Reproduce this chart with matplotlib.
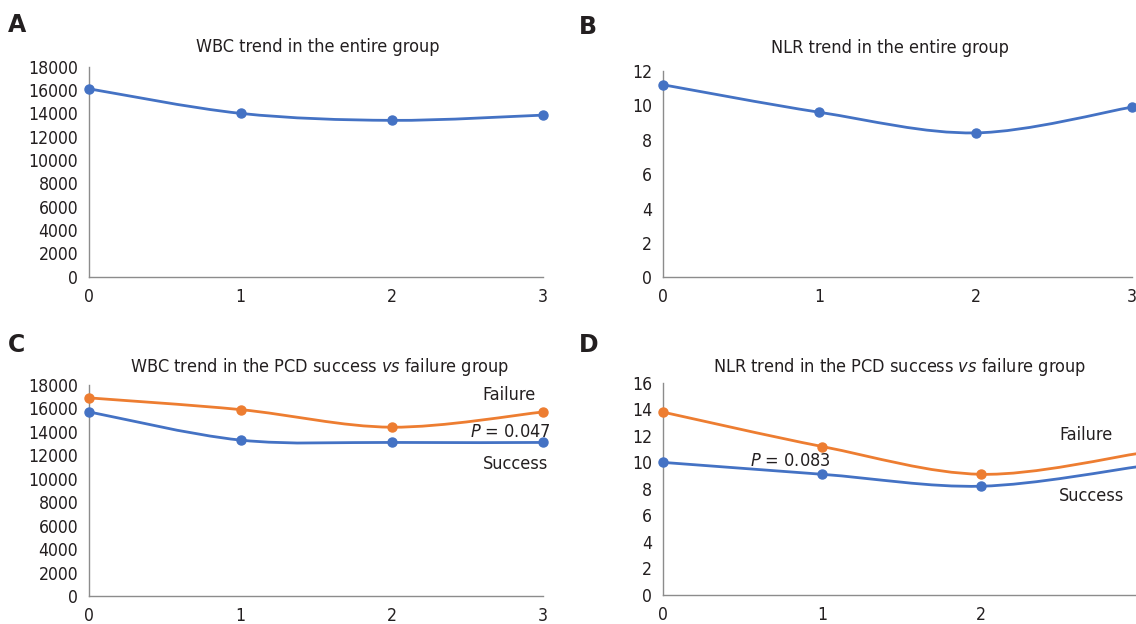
import matplotlib
matplotlib.use("Agg")
import matplotlib.pyplot as plt
from matplotlib.path import Path
from matplotlib.patches import PathPatch

# ---------------- data ----------------
timepoints = [0, 1, 2, 3]

wbc_entire = [16100, 14000, 13400, 13850]
nlr_entire = [11.2, 9.6, 8.4, 9.9]

wbc_failure = [16900, 15900, 14400, 15700]
wbc_success = [15700, 13300, 13100, 13100]

nlr_failure = [13.8, 11.2, 9.1, 10.7]
nlr_success = [10.0, 9.1, 8.2, 9.7]

wbc_ticks = [0, 2000, 4000, 6000, 8000, 10000, 12000, 14000, 16000, 18000]
nlr_ticks_b = [0, 2, 4, 6, 8, 10, 12]
nlr_ticks_d = [0, 2, 4, 6, 8, 10, 12, 14, 16]

titles = ["WBC trend in the entire group",
          "NLR trend in the entire group",
          r"WBC trend in the PCD success $\mathit{vs}$ failure group",
          r"NLR trend in the PCD success $\mathit{vs}$ failure group"]
letters = ["A", "B", "C", "D"]

BLUE = "#4472C4"
ORANGE = "#ED7D31"
TXT = "#231F20"
AXC = "#8C8C8C"

plt.rcParams["font.family"] = "DejaVu Sans"
plt.rcParams["font.stretch"] = "condensed"
plt.rcParams["mathtext.fontset"] = "custom"
plt.rcParams["mathtext.rm"] = "DejaVu Sans"
plt.rcParams["mathtext.it"] = "DejaVu Sans:italic"

W, H = 1136, 624
fig = plt.figure(figsize=(W / 100, H / 100), dpi=100)


def px_axes(left, right, bottom, top):
    return fig.add_axes([left / W, 1 - bottom / H, (right - left) / W, (bottom - top) / H])


def smooth_line(ax, x, y, color):
    # Excel-style smoothed line: cubic Bezier segments through the data points
    n = len(x)
    verts = [(x[0], y[0])]
    codes = [Path.MOVETO]
    for i in range(n - 1):
        i0 = max(i - 1, 0)
        i3 = min(i + 2, n - 1)
        c1 = (x[i] + (x[i + 1] - x[i0]) / 6.0, y[i] + (y[i + 1] - y[i0]) / 6.0)
        c2 = (x[i + 1] - (x[i3] - x[i]) / 6.0, y[i + 1] - (y[i3] - y[i]) / 6.0)
        verts += [c1, c2, (x[i + 1], y[i + 1])]
        codes += [Path.CURVE4] * 3
    patch = PathPatch(Path(verts, codes), facecolor="none", edgecolor=color,
                      lw=2.0, clip_on=False, capstyle="round", joinstyle="round")
    ax.add_patch(patch)
    ax.plot(x, y, "o", color=color, ms=6.5, clip_on=False, zorder=5)


def style(ax, ylim, yticks):
    ax.set_xlim(0, 3)
    ax.set_ylim(*ylim)
    ax.set_xticks(timepoints)
    ax.set_xticklabels([str(t) for t in timepoints])
    ax.set_yticks(yticks)
    ax.set_yticklabels([str(t) for t in yticks])
    for s in ["top", "right"]:
        ax.spines[s].set_visible(False)
    for s in ["left", "bottom"]:
        ax.spines[s].set_color(AXC)
        ax.spines[s].set_linewidth(1.0)
    ax.tick_params(axis="both", length=0, labelsize=12.6, colors=TXT)
    ax.tick_params(axis="y", pad=8)
    ax.tick_params(axis="x", pad=8)
    ax.patch.set_visible(False)


# Panel A
axA = px_axes(89.3, 543, 276.7, 66.7)
style(axA, (0, 18000), wbc_ticks)
smooth_line(axA, timepoints, wbc_entire, BLUE)

# Panel B
axB = px_axes(663, 1132, 277.3, 71)
style(axB, (0, 12), nlr_ticks_b)
smooth_line(axB, timepoints, nlr_entire, BLUE)

# Panel C
axC = px_axes(89.3, 543, 596, 385)
style(axC, (0, 18000), wbc_ticks)
smooth_line(axC, timepoints, wbc_failure, ORANGE)
smooth_line(axC, timepoints, wbc_success, BLUE)
axC.text(2.60, 17150, "Failure", fontsize=13, color=TXT, ha="left", va="center")
axC.text(2.52, 13990, r"$\mathit{P}$ = 0.047", fontsize=13, color=TXT, ha="left", va="center")
axC.text(2.60, 11260, "Success", fontsize=13, color=TXT, ha="left", va="center")

# Panel D
axD = px_axes(663, 1140.5, 594.7, 383)
style(axD, (0, 16), nlr_ticks_d)
smooth_line(axD, timepoints, nlr_failure, ORANGE)
smooth_line(axD, timepoints, nlr_success, BLUE)
axD.text(2.49, 12.07, "Failure", fontsize=13, color=TXT, ha="left", va="center")
axD.text(0.547, 10.1, r"$\mathit{P}$ = 0.083", fontsize=13, color=TXT, ha="left", va="center")
axD.text(2.49, 7.46, "Success", fontsize=13, color=TXT, ha="left", va="center")

# Titles and panel letters (figure pixel positions)
title_pos = [(317.5, 46.7), (890, 48.3), (320, 367), (900, 367)]
letter_pos = [(8, 25), (579, 27), (8, 345), (579, 345)]
for t, (tx, ty) in zip(titles, title_pos):
    fig.text(tx / W, 1 - ty / H, t, fontsize=13, color=TXT, ha="center", va="center")
for l, (lx, ly) in zip(letters, letter_pos):
    fig.text(lx / W, 1 - ly / H, l, fontsize=17, fontweight="bold", color=TXT,
             ha="left", va="center", stretch="normal")

fig.savefig("out.png", dpi=100, facecolor="white")
